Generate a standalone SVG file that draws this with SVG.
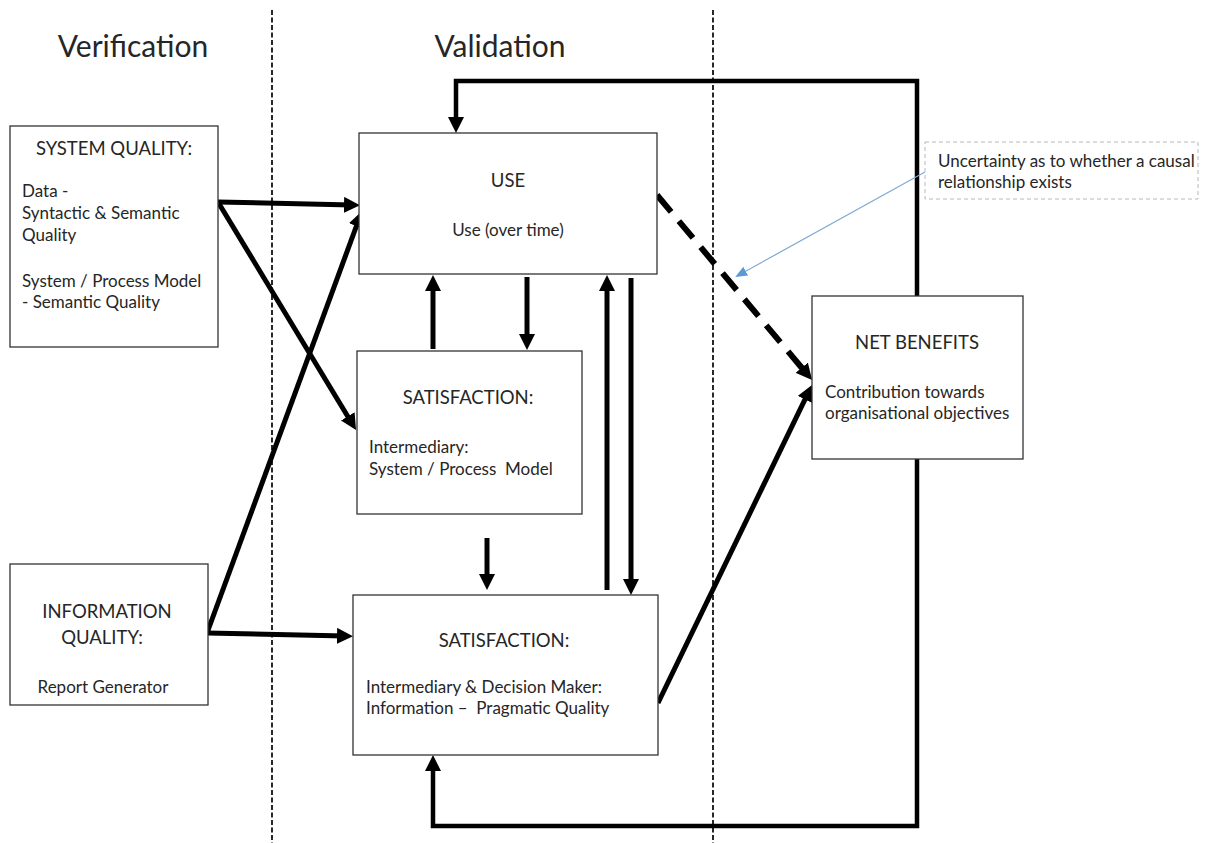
<svg xmlns="http://www.w3.org/2000/svg" width="1214" height="843" viewBox="0 0 1214 843">
  <defs>
    <style>
      text { font-family: Lato, "Liberation Sans", sans-serif; fill: #262626; }
      .title { font-size: 30px; }
      .head { font-size: 18.5px; }
      .body { font-size: 17px; }
      .mid { text-anchor: middle; }
      .box { fill: #ffffff; stroke: #333333; stroke-width: 1.3; }
      .divider { stroke: #111111; stroke-width: 1.8; stroke-dasharray: 5 2.5; fill: none; }
      .flow { stroke: #000000; stroke-width: 5; fill: none; marker-end: url(#head); }
      .loop { stroke: #000000; stroke-width: 4.5; fill: none; stroke-linejoin: miter; marker-end: url(#head); }
      .uncertain { stroke: #000000; stroke-width: 6; stroke-dasharray: 22 12; fill: none; marker-end: url(#head); }
      .note { fill: #ffffff; stroke: #b4b8c0; stroke-width: 1; stroke-dasharray: 4 3; }
      .pointer { stroke: #7fa8d4; stroke-width: 1.2; fill: none; marker-end: url(#bluehead); }
    </style>
    <marker id="head" markerUnits="userSpaceOnUse" viewBox="0 0 16 16" markerWidth="16" markerHeight="16" refX="8" refY="8" orient="auto">
      <path d="M0,0 L16,8 L0,16 Z" fill="#000000"/>
    </marker>
    <marker id="bluehead" markerUnits="userSpaceOnUse" viewBox="0 0 12 10" markerWidth="12" markerHeight="10" refX="10" refY="5" orient="auto">
      <path d="M0,0 L12,5 L0,10 Z" fill="#5b9bd5"/>
    </marker>
  </defs>

  <rect width="1214" height="843" fill="#ffffff"/>

  <!-- phase dividers and headings -->
  <g id="phases">
    <line class="divider" x1="272" y1="10" x2="272" y2="843"/>
    <line class="divider" x1="713" y1="10" x2="713" y2="843"/>
    <text class="title mid" x="133" y="57">Verification</text>
    <text class="title mid" x="500" y="57">Validation</text>
  </g>

  <!-- connectors -->
  <g id="connectors">
    <path class="loop" d="M917,296 V81 H456 V125"/>
    <path class="loop" d="M917,459 V826 H433 V763"/>
    <path class="flow" d="M218,202 L352,205"/>
    <path class="flow" d="M218,202 L351.9,423.2"/>
    <path class="flow" d="M207,633 L359.2,218.5"/>
    <path class="flow" d="M207,633 L345,636"/>
    <path class="flow" d="M433,349 V283"/>
    <path class="flow" d="M527,277 V342"/>
    <path class="flow" d="M607,590 V283"/>
    <path class="flow" d="M631,278 V587"/>
    <path class="flow" d="M487,538 V582"/>
    <path class="flow" d="M658,703 L808.5,392.2"/>
    <path class="uncertain" d="M657,195 L806.9,373.9"/>
    <path class="pointer" d="M925,172 L737,276"/>
  </g>

  <g id="system-quality">
    <rect class="box" x="10" y="126" width="208" height="221"/>
    <text class="head mid" x="114" y="155">SYSTEM QUALITY:</text>
    <text class="body" x="22" y="197">Data -</text>
    <text class="body" x="22" y="219">Syntactic &amp; Semantic</text>
    <text class="body" x="22" y="241">Quality</text>
    <text class="body" x="22" y="287">System / Process Model</text>
    <text class="body" x="22" y="308">- Semantic Quality</text>
  </g>

  <g id="information-quality">
    <rect class="box" x="10" y="564" width="198" height="141"/>
    <text class="head mid" x="107" y="618">INFORMATION</text>
    <text class="head mid" x="102" y="644">QUALITY:</text>
    <text class="body mid" x="103" y="693">Report Generator</text>
  </g>

  <g id="use">
    <rect class="box" x="359" y="133" width="298" height="141"/>
    <text class="head mid" x="508" y="187">USE</text>
    <text class="body mid" x="508" y="236">Use (over time)</text>
  </g>

  <g id="satisfaction-intermediary">
    <rect class="box" x="357" y="351" width="225" height="163"/>
    <text class="head mid" x="468" y="404">SATISFACTION:</text>
    <text class="body" x="369" y="453">Intermediary:</text>
    <text class="body" x="369" y="475" xml:space="preserve">System / Process  Model</text>
  </g>

  <g id="satisfaction-decision-maker">
    <rect class="box" x="353" y="595" width="305" height="160"/>
    <text class="head mid" x="504" y="647">SATISFACTION:</text>
    <text class="body" x="366" y="693">Intermediary &amp; Decision Maker:</text>
    <text class="body" x="366" y="714" xml:space="preserve">Information –  Pragmatic Quality</text>
  </g>

  <g id="net-benefits">
    <rect class="box" x="812" y="296" width="211" height="163"/>
    <text class="head mid" x="917" y="349">NET BENEFITS</text>
    <text class="body" x="825" y="398">Contribution towards</text>
    <text class="body" x="825" y="419">organisational objectives</text>
  </g>

  <g id="uncertainty-note">
    <rect class="note" x="925" y="142" width="273" height="57"/>
    <text class="body" x="938" y="167">Uncertainty as to whether a causal</text>
    <text class="body" x="938" y="188">relationship exists</text>
  </g>
</svg>
